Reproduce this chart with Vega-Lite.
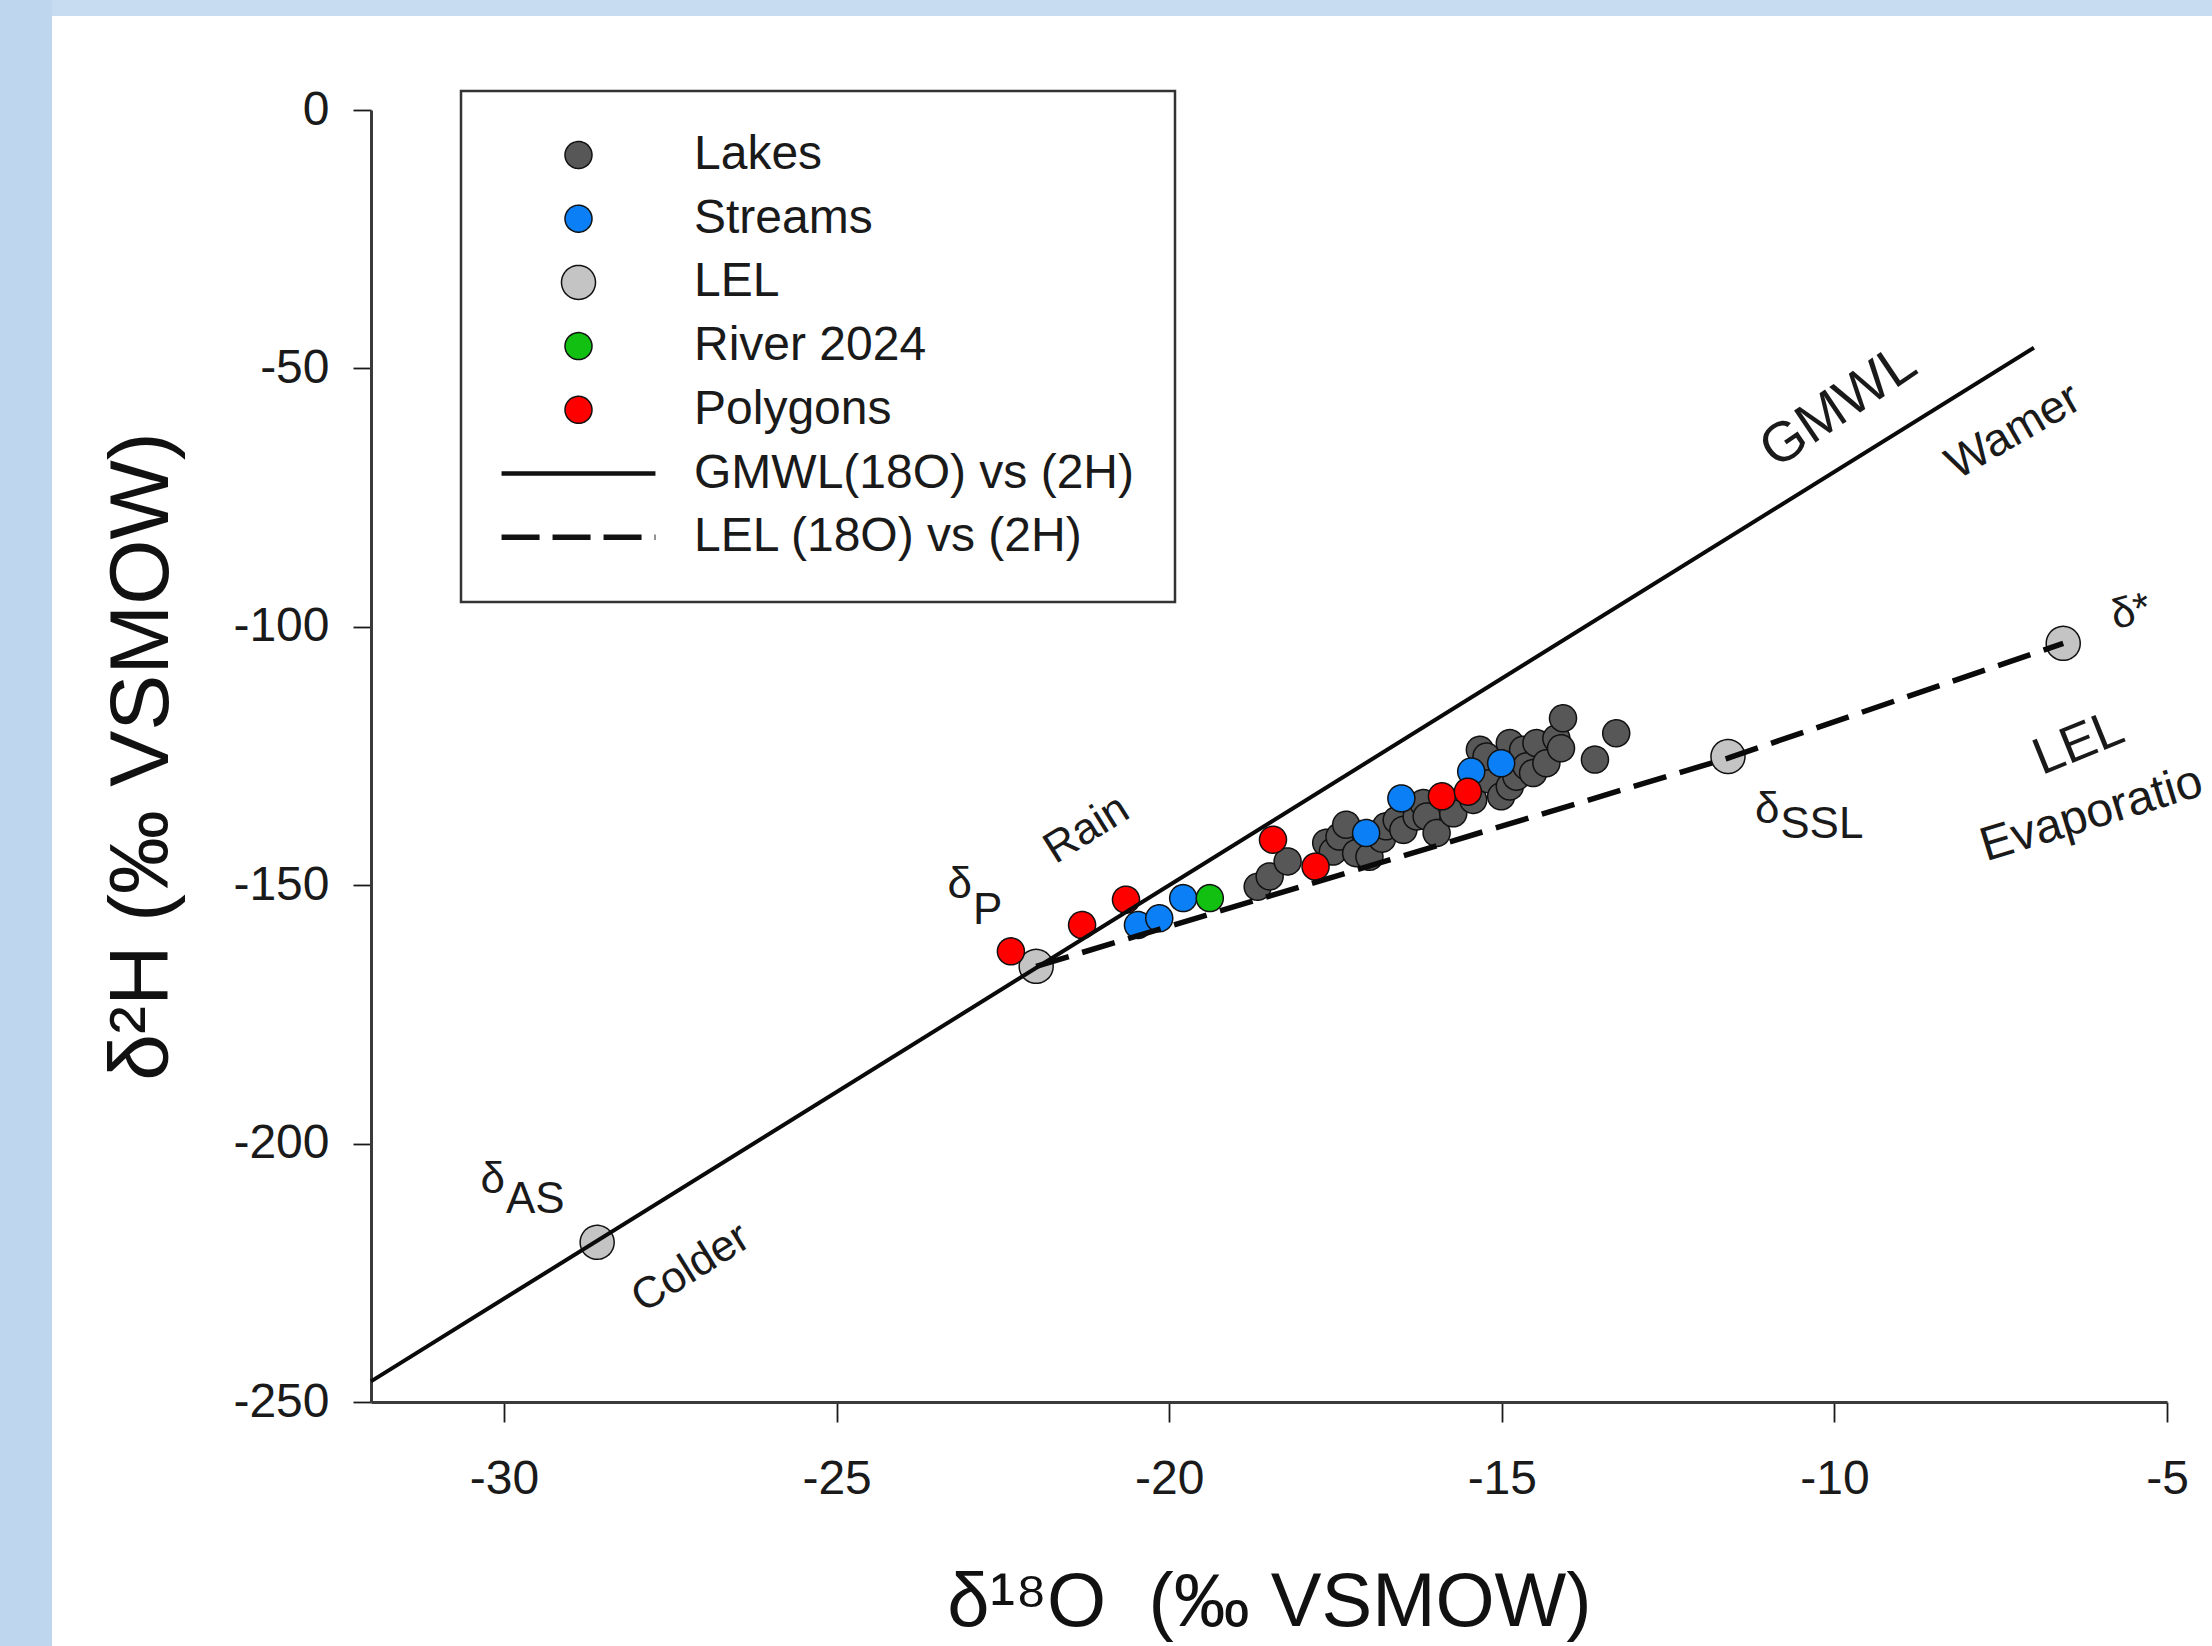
{
  "$schema": "https://vega.github.io/schema/vega-lite/v6.json",
  "background": "white",
  "padding": 0,
  "config": {
    "font": "Liberation Sans",
    "view": {"stroke": null},
    "legend": {"strokeWidth": 2.5}
  },
  "spacing": 0,
  "bounds": "flush",
  "hconcat": [
    {
      "width": 52,
      "height": 1646,
      "view": {"fill": "#bfd7ee", "stroke": null},
      "data": {"values": []},
      "mark": "point"
    },
    {
      "spacing": 94,
      "bounds": "flush",
      "vconcat": [
        {
          "width": 2160,
          "height": 16,
          "view": {"fill": "#c7dcf1", "stroke": null},
          "data": {"values": []},
          "mark": "point"
        },
        {
          "spacing": 318,
          "bounds": "flush",
          "hconcat": [
            {
              "width": 1,
              "height": 1,
              "view": {"stroke": null},
              "data": {"values": []},
              "mark": "point"
            },
            {
              "width": 1796,
              "height": 1292,
              "view": {"stroke": null},
              "encoding": {
                "x": {
                  "field": "d18O",
                  "type": "quantitative",
                  "scale": {"domain": [-32, -5], "nice": false, "zero": false},
                  "axis": {
                    "values": [-30, -25, -20, -15, -10, -5],
                    "title": "δ¹⁸O\u00a0 (‰ VSMOW)",
                    "grid": false,
                    "domainColor": "#3a3a3a",
                    "domainWidth": 3,
                    "tickColor": "#1a1a1a",
                    "tickWidth": 1.8,
                    "tickSize": 20,
                    "labelFont": "Liberation Sans",
                    "labelFontSize": 48,
                    "labelColor": "#1a1a1a",
                    "labelPadding": 33,
                    "labelFlush": false,
                    "labelOverlap": false,
                    "labelExpr": "(datum.value < 0 ? '-' : '') + abs(datum.value)",
                    "titleFont": "Liberation Sans",
                    "titleFontSize": 76,
                    "titleFontWeight": "normal",
                    "titleColor": "#111111",
                    "titlePadding": 62
                  }
                },
                "y": {
                  "field": "d2H",
                  "type": "quantitative",
                  "scale": {"domain": [-250, 0], "nice": false, "zero": false},
                  "axis": {
                    "values": [0, -50, -100, -150, -200, -250],
                    "title": "δ²H (‰ VSMOW)",
                    "grid": false,
                    "domainColor": "#3a3a3a",
                    "domainWidth": 3,
                    "tickColor": "#1a1a1a",
                    "tickWidth": 1.8,
                    "tickSize": 18,
                    "labelFont": "Liberation Sans",
                    "labelFontSize": 48,
                    "labelColor": "#1a1a1a",
                    "labelPadding": 24,
                    "labelFlush": false,
                    "labelOverlap": false,
                    "labelExpr": "(datum.value < 0 ? '-' : '') + abs(datum.value)",
                    "titleFont": "Liberation Sans",
                    "titleFontSize": 84,
                    "titleFontWeight": "normal",
                    "titleColor": "#111111",
                    "titlePadding": 47
                  }
                }
              },
              "layer": [
                {
                  "data": {
                    "values": [
                      {"series": "LEL", "d18O": -28.60, "d2H": -219.1},
                      {"series": "LEL", "d18O": -22.00, "d2H": -165.7},
                      {"series": "LEL", "d18O": -11.60, "d2H": -125.1},
                      {"series": "LEL", "d18O": -6.56, "d2H": -103.2},
                      {"series": "Lakes", "d18O": -18.67, "d2H": -150.3},
                      {"series": "Lakes", "d18O": -18.49, "d2H": -148.3},
                      {"series": "Lakes", "d18O": -18.22, "d2H": -145.4},
                      {"series": "Lakes", "d18O": -17.64, "d2H": -141.8},
                      {"series": "Lakes", "d18O": -17.54, "d2H": -143.5},
                      {"series": "Lakes", "d18O": -17.44, "d2H": -140.6},
                      {"series": "Lakes", "d18O": -17.34, "d2H": -138.3},
                      {"series": "Lakes", "d18O": -17.19, "d2H": -143.8},
                      {"series": "Lakes", "d18O": -16.99, "d2H": -144.5},
                      {"series": "Lakes", "d18O": -16.80, "d2H": -141.0},
                      {"series": "Lakes", "d18O": -16.74, "d2H": -138.6},
                      {"series": "Lakes", "d18O": -16.58, "d2H": -137.4},
                      {"series": "Lakes", "d18O": -16.48, "d2H": -139.3},
                      {"series": "Lakes", "d18O": -16.28, "d2H": -136.7},
                      {"series": "Lakes", "d18O": -16.18, "d2H": -134.1},
                      {"series": "Lakes", "d18O": -16.13, "d2H": -136.7},
                      {"series": "Lakes", "d18O": -15.98, "d2H": -139.9},
                      {"series": "Lakes", "d18O": -15.73, "d2H": -136.1},
                      {"series": "Lakes", "d18O": -15.43, "d2H": -133.5},
                      {"series": "Lakes", "d18O": -15.20, "d2H": -129.5},
                      {"series": "Lakes", "d18O": -15.01, "d2H": -132.8},
                      {"series": "Lakes", "d18O": -15.33, "d2H": -123.8},
                      {"series": "Lakes", "d18O": -15.23, "d2H": -125.1},
                      {"series": "Lakes", "d18O": -14.95, "d2H": -126.0},
                      {"series": "Lakes", "d18O": -14.88, "d2H": -122.5},
                      {"series": "Lakes", "d18O": -14.88, "d2H": -130.9},
                      {"series": "Lakes", "d18O": -14.78, "d2H": -129.0},
                      {"series": "Lakes", "d18O": -14.68, "d2H": -123.8},
                      {"series": "Lakes", "d18O": -14.63, "d2H": -127.0},
                      {"series": "Lakes", "d18O": -14.53, "d2H": -128.3},
                      {"series": "Lakes", "d18O": -14.48, "d2H": -122.5},
                      {"series": "Lakes", "d18O": -14.33, "d2H": -126.4},
                      {"series": "Lakes", "d18O": -14.18, "d2H": -121.6},
                      {"series": "Lakes", "d18O": -14.11, "d2H": -123.5},
                      {"series": "Lakes", "d18O": -14.08, "d2H": -117.7},
                      {"series": "Lakes", "d18O": -13.60, "d2H": -125.7},
                      {"series": "Lakes", "d18O": -13.28, "d2H": -120.6},
                      {"series": "Streams", "d18O": -20.47, "d2H": -157.7},
                      {"series": "Streams", "d18O": -20.15, "d2H": -156.4},
                      {"series": "Streams", "d18O": -19.79, "d2H": -152.5},
                      {"series": "Streams", "d18O": -17.04, "d2H": -139.9},
                      {"series": "Streams", "d18O": -16.51, "d2H": -133.2},
                      {"series": "Streams", "d18O": -15.46, "d2H": -128.0},
                      {"series": "Streams", "d18O": -15.01, "d2H": -126.4},
                      {"series": "River 2024", "d18O": -19.39, "d2H": -152.5},
                      {"series": "Polygons", "d18O": -22.38, "d2H": -162.8},
                      {"series": "Polygons", "d18O": -21.31, "d2H": -157.7},
                      {"series": "Polygons", "d18O": -20.65, "d2H": -152.8},
                      {"series": "Polygons", "d18O": -18.44, "d2H": -141.2},
                      {"series": "Polygons", "d18O": -17.80, "d2H": -146.4},
                      {"series": "Polygons", "d18O": -15.90, "d2H": -132.8},
                      {"series": "Polygons", "d18O": -15.51, "d2H": -131.9}
                    ]
                  },
                  "mark": {"type": "point", "filled": true, "stroke": "#111111", "opacity": 1},
                  "encoding": {
                    "color": {
                      "field": "series",
                      "type": "nominal",
                      "scale": {
                        "domain": ["Lakes", "Streams", "LEL", "River 2024", "Polygons", "GMWL(18O) vs (2H)", "LEL (18O) vs (2H)"],
                        "range": ["#575757", "#0b80f6", "#c4c4c4", "#12c012", "#ff0000", "#0a0a0a", "#0a0a0a"]
                      },
                      "legend": {
                        "title": null,
                        "orient": "none",
                        "legendX": 461,
                        "legendY": 91,
                        "direction": "vertical",
                        "fillColor": "white",
                        "strokeColor": "#333333",
                        "padding": 40,
                        "labelFont": "Liberation Sans",
                        "labelFontSize": 48,
                        "labelColor": "#1a1a1a",
                        "labelOffset": 91.5,
                        "labelLimit": 900,
                        "symbolOffset": 53.5,
                        "rowPadding": 15.7
                      }
                    },
                    "shape": {
                      "field": "series",
                      "type": "nominal",
                      "scale": {
                        "domain": ["Lakes", "Streams", "LEL", "River 2024", "Polygons", "GMWL(18O) vs (2H)", "LEL (18O) vs (2H)"],
                        "range": ["circle", "circle", "circle", "circle", "circle", "M-5.7,0L5.7,0", "M-5.7,0L5.7,0"]
                      }
                    },
                    "size": {
                      "field": "series",
                      "type": "nominal",
                      "scale": {
                        "type": "ordinal",
                        "domain": ["Lakes", "Streams", "LEL", "River 2024", "Polygons", "GMWL(18O) vs (2H)", "LEL (18O) vs (2H)"],
                        "range": [729, 729, 1156, 729, 729, 729, 729]
                      }
                    },
                    "strokeWidth": {
                      "field": "series",
                      "type": "nominal",
                      "scale": {
                        "type": "ordinal",
                        "domain": ["Lakes", "Streams", "LEL", "River 2024", "Polygons", "GMWL(18O) vs (2H)", "LEL (18O) vs (2H)"],
                        "range": [1.5, 1.5, 1.5, 1.5, 1.5, 4.5, 5.5]
                      }
                    },
                    "strokeDash": {
                      "field": "series",
                      "type": "nominal",
                      "scale": {
                        "domain": ["Lakes", "Streams", "LEL", "River 2024", "Polygons", "GMWL(18O) vs (2H)", "LEL (18O) vs (2H)"],
                        "range": [[1, 0], [1, 0], [1, 0], [1, 0], [1, 0], [1, 0], [38, 13]]
                      }
                    }
                  }
                },
                {
                  "data": {"values": [{"d18O": -32, "d2H": -246}, {"d18O": -7.0, "d2H": -46}]},
                  "mark": {"type": "line", "color": "#0a0a0a", "strokeWidth": 4},
                  "encoding": {}
                },
                {
                  "data": {"values": [{"d18O": -22.0, "d2H": -165.7}, {"d18O": -11.6, "d2H": -125.4}, {"d18O": -6.56, "d2H": -103.2}]},
                  "mark": {"type": "line", "color": "#0a0a0a", "strokeWidth": 5.5, "strokeDash": [34, 14]},
                  "encoding": {}
                },
                {
                  "data": {"values": [
                    {"label": "Rain", "d18O": -21.24, "d2H": -139.2},
                    {"label": "Colder", "d18O": -27.19, "d2H": -224.1}
                  ]},
                  "mark": {"type": "text", "font": "Liberation Sans", "fontSize": 44, "angle": 328, "color": "#1a1a1a"},
                  "encoding": {"text": {"field": "label"}}
                },
                {
                  "data": {"values": [{"label": "GMWL", "d18O": -9.94, "d2H": -57.4}]},
                  "mark": {"type": "text", "font": "Liberation Sans", "fontSize": 56, "angle": 326, "color": "#1a1a1a"},
                  "encoding": {"text": {"field": "label"}}
                },
                {
                  "data": {"values": [{"label": "Wamer", "d18O": -7.31, "d2H": -62.2}]},
                  "mark": {"type": "text", "font": "Liberation Sans", "fontSize": 46, "angle": 330, "color": "#1a1a1a"},
                  "encoding": {"text": {"field": "label"}}
                },
                {
                  "data": {"values": [{"label": "LEL", "d18O": -6.33, "d2H": -122.5}]},
                  "mark": {"type": "text", "font": "Liberation Sans", "fontSize": 52, "angle": 338, "color": "#1a1a1a"},
                  "encoding": {"text": {"field": "label"}}
                },
                {
                  "data": {"values": [{"label": "Evaporation", "d18O": -7.72, "d2H": -145.4}]},
                  "mark": {"type": "text", "font": "Liberation Sans", "fontSize": 48, "angle": 343, "align": "left", "baseline": "alphabetic", "limit": 247, "ellipsis": " ", "color": "#1a1a1a"},
                  "encoding": {"text": {"field": "label"}}
                },
                {
                  "data": {"values": [
                    {"label": "δ", "d18O": -23.15, "d2H": -149.9},
                    {"label": "P", "d18O": -22.73, "d2H": -154.9},
                    {"label": "δ", "d18O": -30.17, "d2H": -207.0},
                    {"label": "AS", "d18O": -29.53, "d2H": -211.0},
                    {"label": "δ", "d18O": -11.01, "d2H": -135.4},
                    {"label": "SSL", "d18O": -10.19, "d2H": -138.3}
                  ]},
                  "mark": {"type": "text", "font": "Liberation Sans", "fontSize": 44, "color": "#1a1a1a"},
                  "encoding": {"text": {"field": "label"}}
                },
                {
                  "data": {"values": [{"label": "δ*", "d18O": -5.54, "d2H": -97.1}]},
                  "mark": {"type": "text", "font": "Liberation Sans", "fontSize": 42, "angle": 345, "color": "#1a1a1a"},
                  "encoding": {"text": {"field": "label"}}
                }
              ]
            }
          ]
        }
      ]
    }
  ]
}
